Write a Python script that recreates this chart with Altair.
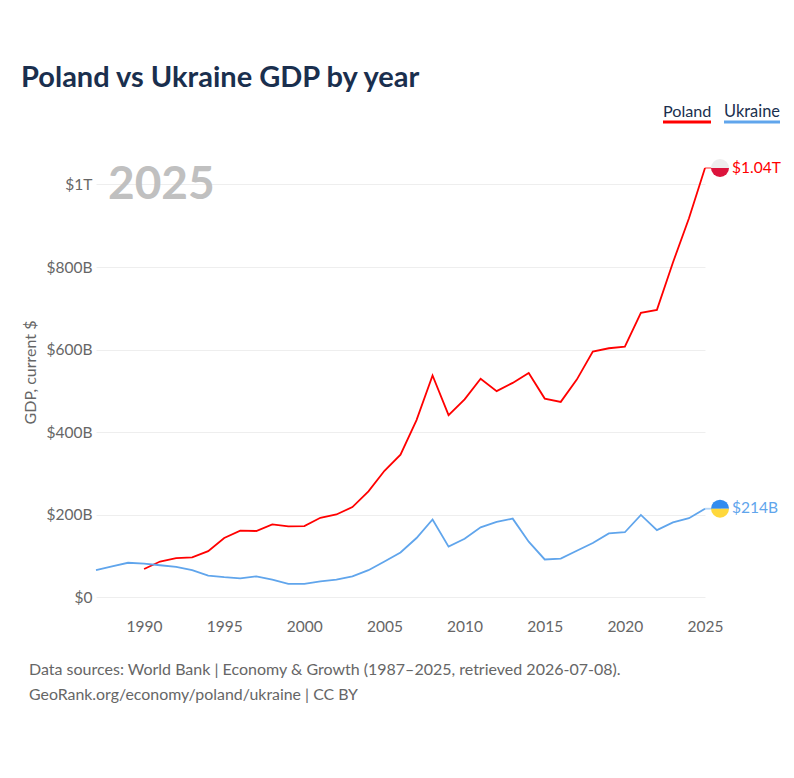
import math
import altair as alt
import pandas as pd

poland_years = list(range(1990, 2026))
poland_values = [68, 86, 94, 96, 111, 143, 161, 160, 176, 171, 172, 192, 200, 218, 256, 306, 345, 429, 537, 441,
                 479, 529, 499, 519, 543, 481, 473, 527, 595, 603, 607, 689, 696, 811, 918, 1040]
ukraine_years = list(range(1987, 2026))
ukraine_values = [65, 74, 83, 81, 77, 73, 65, 52, 48, 45, 50, 42, 32, 32, 38, 42, 50, 65, 86, 108, 143, 188, 122,
                  141, 169, 182, 190, 134, 91, 93, 112, 131, 154, 157, 199, 162, 181, 191, 214]
x_ticks = [1990, 1995, 2000, 2005, 2010, 2015, 2020, 2025]
y_ticks = [0, 200, 400, 600, 800, 1000]
y_tick_expr = "datum.value == 0 ? '$0' : datum.value >= 1000 ? '$' + datum.value / 1000 + 'T' : '$' + datum.value + 'B'"

POLAND = "#ff0000"
UKRAINE = "#60a5ec"
FONT = "Lato"
NAVY = "#1a2f4e"
GREY = "#666666"

df = pd.concat([
    pd.DataFrame({"year": poland_years, "gdp": poland_values, "country": "Poland"}),
    pd.DataFrame({"year": ukraine_years, "gdp": ukraine_values, "country": "Ukraine"}),
])
ends = pd.DataFrame({
    "year": [2025, 2025], "year2": [2026, 2026], "gdp": [1040, 214],
    "country": ["Poland", "Ukraine"], "label": ["$1.04T", "$214B"],
    "top": ["#eeeeee", "#318cf0"], "bottom": ["#dc143c", "#ffd83c"],
})

x = alt.X("year:Q", title=None, scale=alt.Scale(domain=[1987, 2025], nice=False, zero=False),
          axis=alt.Axis(values=x_ticks, format="d", grid=False, domain=False, ticks=False, labelFlush=False,
                        labelFont=FONT, labelFontSize=15.5, labelColor=GREY, labelPadding=22))
y = alt.Y("gdp:Q", title="GDP, current $", scale=alt.Scale(domain=[0, 1040], nice=False),
          axis=alt.Axis(values=y_ticks, labelExpr=y_tick_expr, domain=False, ticks=False, grid=True,
                        gridColor="#eeeeee", gridWidth=1, labelFont=FONT, labelFontSize=15.5,
                        labelColor=GREY, labelPadding=4, titleFont=FONT, titleFontSize=16,
                        titleFontWeight="normal", titleColor=GREY, titlePadding=8, titleY=204))
color = alt.Color("country:N", legend=None, scale=alt.Scale(domain=["Poland", "Ukraine"], range=[POLAND, UKRAINE]))

lines = alt.Chart(df).mark_line(strokeWidth=1.8).encode(x=x, y=y, color=color, detail="country:N")
stubs = alt.Chart(ends).mark_rule(strokeWidth=1.8, opacity=0.45).encode(
    x=alt.X("year:Q"), x2="year2:Q", y=alt.Y("gdp:Q"), color=color)
upper = alt.Chart(ends).mark_arc(radius=9, radius2=0, theta=1.5 * math.pi, theta2=2.5 * math.pi, xOffset=-1).encode(
    x=alt.X("year2:Q"), y=alt.Y("gdp:Q"), fill=alt.Fill("top:N", scale=None))
lower = alt.Chart(ends).mark_arc(radius=9, radius2=0, theta=0.5 * math.pi, theta2=1.5 * math.pi, xOffset=-1).encode(
    x=alt.X("year2:Q"), y=alt.Y("gdp:Q"), fill=alt.Fill("bottom:N", scale=None))
end_labels = alt.Chart(ends).mark_text(align="left", baseline="middle", dx=11, dy=-0.5, font=FONT,
                                       fontSize=15.5).encode(
    x=alt.X("year2:Q"), y=alt.Y("gdp:Q"), text="label:N", color=color)


def text(s, px, py, **kw):
    return alt.Chart(pd.DataFrame({"t": [s]})).mark_text(align="left", baseline="middle", font=FONT, **kw).encode(
        x=alt.value(px), y=alt.value(py), text="t:N")


year_mark = text("2025", 12, 17, fontSize=46, fontWeight="bold", color="#c0c0c0")
legend_poland = text("Poland", 567, -56, fontSize=16.2, color=NAVY)
legend_ukraine = text("Ukraine", 628, -56, fontSize=16.4, color=NAVY)
rule_poland = alt.Chart(df.head(1)).mark_rule(color=POLAND, strokeWidth=3).encode(
    x=alt.value(567), x2=alt.value(615), y=alt.value(-46))
rule_ukraine = alt.Chart(df.head(1)).mark_rule(color=UKRAINE, strokeWidth=3).encode(
    x=alt.value(628), x2=alt.value(684), y=alt.value(-46))
foot1 = text("Data sources: World Bank | Economy & Growth (1987\u20132025, retrieved 2026-07-08).", -67, 502,
             fontSize=16, color=GREY)
foot2 = text("GeoRank.org/economy/poland/ukraine | CC BY", -67, 527, fontSize=15.9, color=GREY)

chart = alt.layer(
    lines, stubs, upper, lower, end_labels, year_mark, legend_poland, legend_ukraine,
    rule_poland, rule_ukraine, foot1, foot2).properties(
    width=609, height=429,
    padding={"left": 88, "top": 160, "right": 81, "bottom": 150},
    autosize=alt.AutoSizeParams(type="none"),
    title=alt.TitleParams("Poland vs Ukraine GDP by year", anchor="start", frame="group", dx=-75, offset=11,
                          font=FONT, fontSize=29, fontWeight="bold", color=NAVY),
).configure_view(stroke=None)

chart.save("out.html", embed_options={"renderer": "svg", "actions": False})
